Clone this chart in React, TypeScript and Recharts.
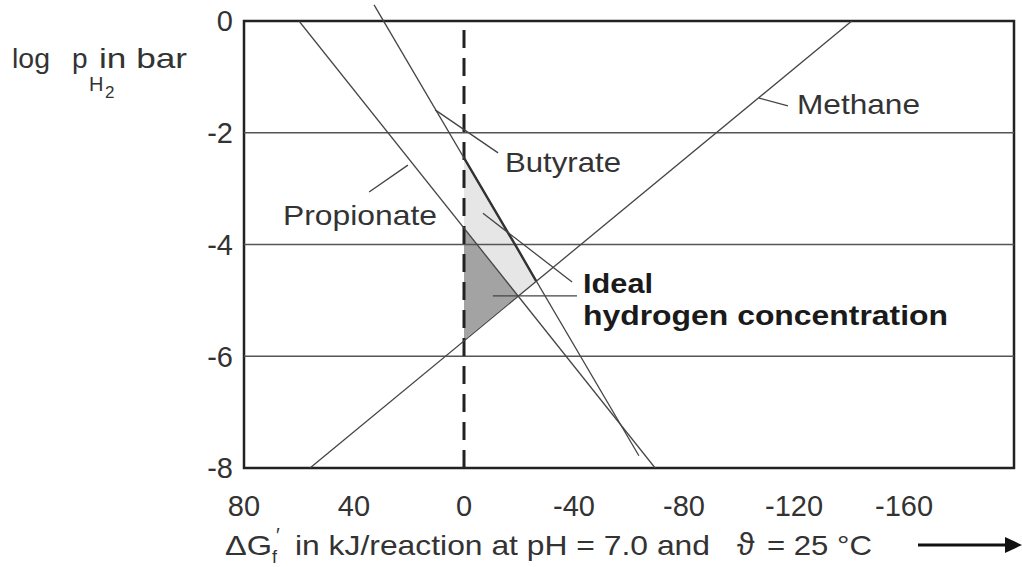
import { ComposedChart, Line, Area, XAxis, YAxis, ReferenceLine, ReferenceArea } from 'recharts';

const xTicks = [80, 40, 0, -40, -80, -120, -160];
const yTicks = [0, -2, -4, -6, -8];
const gridLevels = [-2, -4, -6];

// reaction lines: g = dG (kJ/reaction), p = log pH2 (bar)
const methane = [{ g: 56, p: -8 }, { g: -141, p: 0 }];
const propionate = [{ g: 60, p: 0 }, { g: -69.5, p: -8 }];
const butyrate = [{ g: 32.7, p: 0.29 }, { g: -63.6, p: -7.78 }];

// shaded "ideal" window, [low, high] per dG
const zoneG = [0, -19.5, -26.2];
const zoneLight = [[-3.71, -2.45], [-4.92, -4.08], [-4.65, -4.65]];
const zoneDark = [[-5.71, -3.71], [-4.92, -4.92], null];

// label leader lines [from, to] as [g, p]
const leaders = [
  [[-107.3, -1.38], [-117.8, -1.52]],
  [[10.5, -1.59], [-12.4, -2.36]],
  [[20.4, -2.58], [34.5, -3.06]],
  [[-6.9, -3.44], [-39.3, -4.67]],
  [[-10.5, -4.92], [-41.1, -4.92]],
];

const zone = zoneG.map((g, i) => ({ g, light: zoneLight[i], dark: zoneDark[i] }));
const edge = zoneG.map((g, i) => ({ g, p: zoneLight[i][1] }));

const font = '"Liberation Sans", Arial, sans-serif';
const ink = '#333';
const tickStyle = { fill: ink, fontSize: 29, fontFamily: font };

// stretched text, the source font runs wider than Arial
const T = ({ x, y, w, children, ...rest }: any) => (
  <text x={x} y={y} textLength={w} lengthAdjust="spacingAndGlyphs" {...rest}>{children}</text>
);

export default function App() {
  return (
    <div style={{ position: 'relative', width: 1022, height: 567, fontFamily: font }}>
      <style>{'body{margin:0}'}</style>
      <ComposedChart width={1022} height={567} data={zone} margin={{ top: 21, right: 8, left: 184, bottom: 69 }}>
        <XAxis
          type="number"
          dataKey="g"
          domain={[-200, 80]}
          reversed
          allowDataOverflow
          ticks={xTicks}
          interval={0}
          axisLine={false}
          tickLine={false}
          tickMargin={21}
          height={30}
          tick={tickStyle}
        />
        <YAxis
          type="number"
          domain={[-8, 0]}
          allowDataOverflow
          ticks={yTicks}
          interval={0}
          axisLine={false}
          tickLine={false}
          tickMargin={5}
          width={60}
          tick={tickStyle}
        />
        <Area type="linear" dataKey="light" fill="#e6e6e6" fillOpacity={1} stroke="none" isAnimationActive={false} dot={false} activeDot={false} />
        <Area type="linear" dataKey="dark" fill="#a3a3a3" fillOpacity={1} stroke="none" isAnimationActive={false} dot={false} activeDot={false} />
        {gridLevels.map((v) => (
          <ReferenceLine key={v} y={v} stroke="#555" strokeWidth={1.3} />
        ))}
        <ReferenceLine x={0} stroke="#222" strokeWidth={3} strokeDasharray="18 10" />
        <Line data={methane} dataKey="p" type="linear" stroke="#444" strokeWidth={1.3} dot={false} activeDot={false} isAnimationActive={false} />
        <Line data={propionate} dataKey="p" type="linear" stroke="#444" strokeWidth={1.3} dot={false} activeDot={false} isAnimationActive={false} />
        <ReferenceLine
          segment={[{ x: butyrate[0].g, y: butyrate[0].p }, { x: butyrate[1].g, y: butyrate[1].p }]}
          stroke="#444"
          strokeWidth={1.3}
          ifOverflow="visible"
        />
        <Line data={edge} dataKey="p" type="linear" stroke="#333" strokeWidth={2.4} dot={false} activeDot={false} isAnimationActive={false} />
        {leaders.map((l, i) => (
          <ReferenceLine
            key={i}
            segment={[{ x: l[0][0], y: l[0][1] }, { x: l[1][0], y: l[1][1] }]}
            stroke="#444"
            strokeWidth={1.3}
            ifOverflow="visible"
          />
        ))}
        <ReferenceArea x1={-200} x2={80} y1={-8} y2={0} fill="none" stroke="#222" strokeWidth={2.5} ifOverflow="visible" />
      </ComposedChart>
      <svg width={1022} height={567} style={{ position: 'absolute', left: 0, top: 0, pointerEvents: 'none' }}>
        <g fill={ink} fontFamily={font} fontSize={28}>
          <T x={12} y={68} w={38}>log</T>
          <text x={72} y={68}>p</text>
          <text x={89} y={91} fontSize={20}>H</text>
          <text x={105} y={98} fontSize={17}>2</text>
          <T x={99} y={68} w={88}>in bar</T>

          <T x={797} y={114} w={123}>Methane</T>
          <T x={505} y={172} w={116}>Butyrate</T>
          <T x={283} y={225} w={154}>Propionate</T>
          <T x={583} y={293} w={70} fontWeight="bold" fill="#1a1a1a">Ideal</T>
          <T x={583} y={325} w={365} fontWeight="bold" fill="#1a1a1a">hydrogen concentration</T>

          <T x={225} y={555} w={47}>ΔG</T>
          <text x={276} y={542} fontSize={20}>′</text>
          <text x={272} y={563} fontSize={18}>f</text>
          <T x={295} y={555} w={415}>in kJ/reaction at pH = 7.0 and</T>
          <text x={737} y={555} fontSize={32}>ϑ</text>
          <T x={767} y={555} w={105}>= 25 °C</T>
        </g>
        <line x1={918} y1={545} x2={1008} y2={545} stroke="#111" strokeWidth={3} />
        <polygon points="1005,537 1022,545 1005,553" fill="#111" />
      </svg>
    </div>
  );
}
